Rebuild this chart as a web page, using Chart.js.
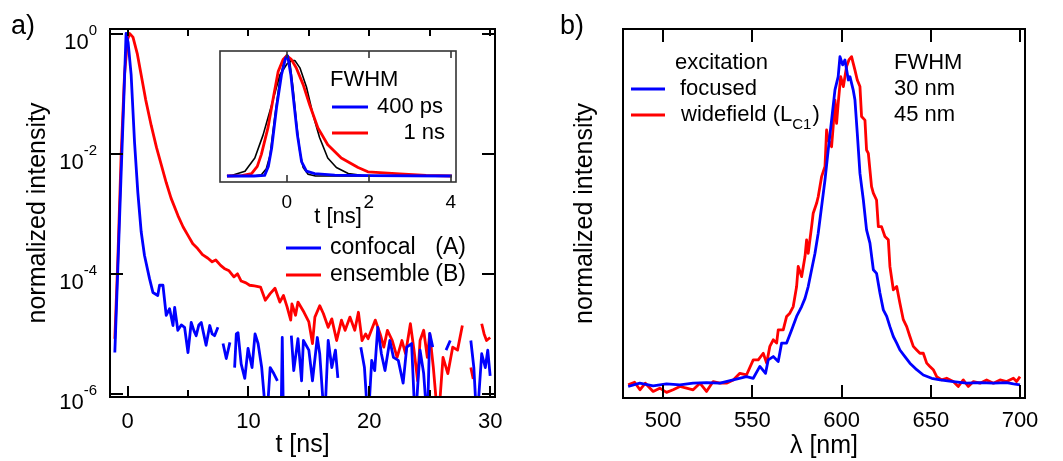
<!DOCTYPE html>
<html>
<head>
<meta charset="utf-8">
<script src="https://cdn.jsdelivr.net/npm/chart.js@4.4.1/dist/chart.umd.min.js"></script>
<style>
  body { margin: 0; background: #fff; }
  #wrap { position: relative; width: 1063px; height: 461px; overflow: hidden;
          font-family: "Liberation Sans", Arial, sans-serif; }
  #wrap canvas { position: absolute; }
  .panel { position: absolute; font-size: 27px; line-height: 30px; color: #000; }
</style>
</head>
<body>
<div id="wrap">
  <canvas id="decay" width="520" height="461" style="left:0;top:0"></canvas>
  <canvas id="inset" width="270" height="195" style="left:200px;top:40px"></canvas>
  <canvas id="spectrum" width="543" height="461" style="left:520px;top:0"></canvas>
  <div class="panel" style="left:11px;top:10px">a)</div>
  <div class="panel" style="left:560px;top:10px">b)</div>
</div>
<script>
// ---- panel a: decay curves (log10 of normalized intensity, null = no counts) ----
const confocalT = [-1.05, -0.8, -0.55, -0.3, -0.12, 0.05, 0.3, 0.58, 0.85, 1.13, 1.4, 1.82, 2.1, 2.5, 2.65, 2.93,
  3.2, 3.48, 3.76, 3.9, 4.16, 4.45, 4.72, 5.0, 5.27, 5.5, 5.68, 5.9, 6.1, 6.3, 6.5, 6.8, 7.0, 7.2, 7.48, 7.7,
  7.9, 8.17, 8.47, 8.65, 8.86, 9.0, 9.14, 9.4, 9.7, 9.97, 10.3, 10.55, 10.8, 11.1, 11.5, 11.8, 12.1, 12.4, 12.6,
  12.7, 12.8, 12.9, 13.2, 13.55, 13.75, 14.1, 14.4, 14.55, 15.0, 15.3, 15.7, 15.9, 16.3, 16.6, 16.9, 17.2, 17.4,
  17.8, 19.3, 19.6, 19.9, 20.2, 20.45, 20.7, 21.0, 21.3, 21.7, 22.0, 22.4, 22.8, 23.1, 23.5, 23.8, 24.2, 24.5,
  24.8, 25.0, 25.25, 25.8, 26.35, 26.7, 27.0, 28.4, 28.65, 28.9, 29.3, 29.6, 29.8, 30.0];
const confocalLog10 = [-5.31, -3.9, -2.45, -1.05, 0, -0.15, -0.69, -1.81, -2.64, -3.3, -3.69, -4.08, -4.31, -4.36, -4.19, -4.19,
  -4.69, -4.58, -4.86, -4.56, -4.94, -4.85, -4.89, -5.31, -4.81, -4.95, -5.03, -4.85, -4.81, -5.0, -5.19, -4.86, -5.0, -5.03, -4.89, null,
  -5.16, -5.41, -5.14, null, -5.56, -5.0, -4.98, -5.5, -5.74, -5.24, -5.56, -5.0, -5.16, -5.56, -6.5, -5.56, -5.66, -5.78, null,
  -6.5, -5.06, -6.5, null, -5.03, -5.61, -5.08, -5.78, -5.11, -5.27, -5.78, -5.06, -5.33, -6.5, -5.11, -5.56, -5.27, -5.73,
  null, -5.22, -5.56, -6.5, -5.44, -5.61, -4.89, -5.33, -5.61, -5.11, -5.39, -5.44, -5.82, -5.22, -5.16, -6.5, -5.27, -5.66,
  -6.5, -4.99, -5.22, null, -5.27, -5.11, null, -5.11, -5.56, -6.5, -5.33, -5.56, -5.27, -5.7];

const ensembleT = [-1.05, -0.8, -0.53, -0.25, 0.0, 0.17, 0.45, 0.8, 1.13, 1.5, 1.96, 2.4, 2.8, 3.2, 3.6, 4.17, 4.6,
  5.0, 5.4, 5.8, 6.2, 6.65, 7.0, 7.3, 7.7, 8.0, 8.4, 8.8, 9.1, 9.4, 9.8, 10.1, 10.5, 11.0, 11.4, 11.8, 12.2, 12.6,
  12.9, 13.2, 13.5, 13.6, 13.9, 14.1, 14.6, 15.0, 15.3, 15.5, 15.9, 16.2, 16.6, 16.9, 17.3, 17.7, 18.0, 18.4, 18.8,
  19.1, 19.4, 19.7, 19.9, 20.5, 20.9, 21.2, 21.5, 21.9, 22.3, 22.7, 23.0, 23.4, 23.7, 24.0, 24.2, 24.5, 24.8, 25.0,
  25.3, 25.7, 26.1, 26.5, 26.9, 27.3, 27.7, 27.95, 28.4, 28.6, 28.9, 29.3, 29.5, 29.7, 30.0];
const ensembleLog10 = [-5.08, -3.74, -2.03, -0.69, -0.1, 0, -0.06, -0.33, -0.69, -1.1, -1.53, -1.9, -2.19, -2.48, -2.74, -3.03, -3.22,
  -3.36, -3.5, -3.58, -3.68, -3.74, -3.8, -3.77, -3.86, -3.91, -3.95, -4.05, -4.0, -4.12, -4.15, -4.19, -4.2, -4.22, -4.44, -4.33, -4.24, -4.47,
  -4.36, -4.55, -4.77, -4.5, -4.69, -4.47, -4.64, -4.8, -5.16, -4.72, -4.53, -4.66, -4.89, -4.75, -5.11, -4.77, -4.94, -4.72, -4.94,
  -4.64, -5.11, -5.0, -5.08, -4.77, -5.0, -5.22, -4.94, -5.11, -5.39, -5.11, -5.33, -4.83, -5.27, -5.78, -5.11, -4.94, -5.39, -5.0,
  -5.56, -6.5, -5.39, -5.66, -5.22, -5.27, -4.86, null, -5.56, -5.75, null, -4.83, -5.0, -5.11, -5.06];

const timeTicks = [0, 10, 20, 30];
const timeMinorTicks = [5, 15, 25];
const decadeTicks = [1e-6, 1e-4, 1e-2, 1];

// ---- inset: normalized transients (linear) ----
const insetConfocalT = [-1.46, -0.8, -0.54, -0.45, -0.37, -0.25, -0.13, -0.03, 0.02, 0.1, 0.18, 0.26, 0.36, 0.48, 0.68, 1.17, 2.0, 4.03];
const insetConfocal  = [0, 0, 0.005, 0.08, 0.23, 0.57, 0.84, 0.98, 1.0, 0.84, 0.59, 0.34, 0.12, 0.04, 0.02, 0.008, 0.003, 0];
const insetEnsembleT = [-1.46, -1.1, -0.86, -0.72, -0.62, -0.46, -0.33, -0.21, -0.09, 0.0, 0.11, 0.23, 0.4, 0.56, 0.76, 1.0, 1.33, 1.74, 1.98, 2.76, 3.4, 4.03];
const insetEnsemble  = [0, 0.003, 0.02, 0.08, 0.18, 0.4, 0.65, 0.87, 0.97, 1.0, 0.97, 0.9, 0.76, 0.59, 0.4, 0.26, 0.15, 0.07, 0.035, 0.017, 0.005, 0];
const insetFitNarrowT = [-1.46, -0.8, -0.62, -0.5, -0.41, -0.29, -0.17, -0.05, 0.0, 0.07, 0.15, 0.24, 0.32, 0.4, 0.52, 0.7, 4.03];
const insetFitNarrow  = [0, 0, 0.01, 0.06, 0.17, 0.5, 0.8, 0.98, 1.01, 0.96, 0.74, 0.43, 0.2, 0.07, 0.015, 0, 0];
const insetFitWideT = [-1.46, -1.35, -1.02, -0.78, -0.58, -0.37, -0.17, 0.0, 0.11, 0.2, 0.32, 0.48, 0.64, 0.8, 1.0, 1.21, 1.5, 1.82, 2.3, 4.03];
const insetFitWide  = [0, 0.005, 0.04, 0.15, 0.34, 0.59, 0.84, 0.93, 0.96, 0.96, 0.9, 0.74, 0.51, 0.32, 0.15, 0.07, 0.02, 0.005, 0, 0];
const insetTicks = [0, 2, 4];

// ---- panel b: emission spectra ----
const focusedNm = [480.4, 486.9, 494.4, 501.9, 509.4, 516.8, 524.3, 531.8, 539.3, 546.7, 550.5, 554.2, 557.4, 558.9, 561.7,
  564.5, 566.4, 569.2, 572.0, 574.8, 577.6, 579.5, 581.3, 583.2, 585.1, 586.9, 588.8, 590.7, 592.5, 594.4, 596.3, 598.1,
  599.1, 600.6, 601.9, 603.8, 604.7, 606.5, 607.5, 608.8, 610.3, 612.2, 614.0, 615.9, 617.8, 619.6, 621.5, 623.4, 625.3,
  627.1, 629.0, 630.9, 632.7, 635.5, 638.3, 642.1, 645.8, 650.5, 655.2, 662.6, 670.1, 677.6, 685.1, 692.5, 696.3, 700.0];
const focusedInt = [-0.005, 0.005, -0.003, 0.003, 0, 0.005, 0.007, 0.005, 0.015, 0.025, 0.02, 0.056, 0.035, 0.076, 0.086,
  0.071, 0.127, 0.127, 0.167, 0.208, 0.238, 0.263, 0.299, 0.35, 0.4, 0.461, 0.542, 0.623, 0.714, 0.805, 0.897, 0.937,
  0.998, 0.973, 0.988, 0.927, 0.937, 0.897, 0.866, 0.765, 0.643, 0.562, 0.471, 0.431, 0.35, 0.339, 0.279, 0.228, 0.208,
  0.177, 0.147, 0.127, 0.106, 0.086, 0.066, 0.046, 0.03, 0.02, 0.015, 0.01, 0.005, 0.007, 0.005, 0.007, 0.003, 0];
const widefieldNm = [480.4, 484, 487, 490, 494.4, 498.1, 501.9, 505.6, 509.4, 513.1, 516.8, 520.6, 524.3, 528.0, 531.8, 535.5,
  539.3, 543.0, 546.7, 550.5, 553.3, 556.1, 558.0, 559.8, 561.7, 563.6, 564.5, 567.3, 569.2, 571.0, 572.9, 574.8, 575.7,
  577.6, 579.5, 580.4, 581.3, 583.2, 584.1, 586.0, 586.9, 588.8, 590.7, 591.6, 592.5, 594.4, 595.3, 596.3, 597.2, 598.1,
  599.5, 601.0, 602.8, 604.1, 605.6, 606.5, 607.5, 608.8, 610.3, 611.2, 613.1, 614.0, 615.0, 616.8, 617.8, 619.6, 620.6,
  622.4, 624.3, 626.2, 627.1, 629.0, 630.9, 632.7, 634.6, 636.5, 638.3, 640.2, 642.1, 643.9, 645.8, 647.7, 649.5, 651.4,
  653.3, 656.1, 658.9, 662.6, 665.4, 668.2, 671.0, 673.9, 677.6, 681.3, 685.1, 688.8, 692.5, 696.3, 698.1, 700.0];
const widefieldInt = [0, 0.008, -0.015, 0.005, -0.02, -0.01, -0.023, -0.015, -0.005, -0.01, -0.015, 0.005, -0.02, 0.01, 0.005, 0.005,
  0.015, 0.035, 0.03, 0.076, 0.076, 0.096, 0.066, 0.117, 0.137, 0.127, 0.167, 0.167, 0.208, 0.218, 0.238, 0.299, 0.36,
  0.329, 0.39, 0.441, 0.4, 0.481, 0.522, 0.552, 0.572, 0.633, 0.664, 0.775, 0.745, 0.724, 0.785, 0.866, 0.795, 0.856,
  0.937, 0.907, 0.968, 0.988, 0.998, 0.978, 0.957, 0.927, 0.907, 0.816, 0.805, 0.714, 0.704, 0.603, 0.583, 0.562, 0.481,
  0.481, 0.451, 0.441, 0.36, 0.289, 0.299, 0.248, 0.198, 0.177, 0.147, 0.117, 0.106, 0.096, 0.096, 0.066, 0.056, 0.046,
  0.025, 0.015, 0.02, 0.01, -0.005, 0.015, -0.005, 0.01, 0.005, 0.015, 0.005, 0.015, 0.01, 0.02, 0.01, 0.025];
const wavelengthTicks = [500, 550, 600, 650, 700];

const FONT = '"Liberation Sans", Arial, sans-serif';
const BLUE = '#0000ff';
const RED = '#ff0000';
const CURVE_W = 2.8;
Chart.defaults.font.family = FONT;
Chart.defaults.color = '#000';

const toPoints = (xs, ys, f = v => v) => xs.map((x, i) => ({ x: x, y: ys[i] === null ? null : f(ys[i]) }));
const line = (label, data, color, width) => ({
  label: label, data: data, borderColor: color, borderWidth: width,
  pointRadius: 0, tension: 0, spanGaps: false, borderJoinStyle: 'round', fill: false
});
const fixedTicks = values => scale => { scale.ticks = values.map(v => ({ value: v })); };

// black frame + inward ticks on chosen sides
function drawFrame(chart, marks, lw, color) {
  const { ctx, chartArea: a, scales } = chart;
  ctx.save();
  ctx.strokeStyle = color;
  ctx.lineWidth = lw;
  ctx.strokeRect(a.left, a.top, a.right - a.left, a.bottom - a.top);
  ctx.beginPath();
  marks.forEach(m => {
    m.values.forEach(v => {
      if (m.side === 'top' || m.side === 'bottom') {
        const px = Math.round(scales.x.getPixelForValue(v));
        const y0 = m.side === 'bottom' ? a.bottom : a.top;
        ctx.moveTo(px, y0);
        ctx.lineTo(px, y0 + (m.side === 'bottom' ? -m.len : m.len));
      } else {
        const py = Math.round(scales.y.getPixelForValue(v));
        const x0 = m.side === 'left' ? a.left : a.right;
        ctx.moveTo(x0, py);
        ctx.lineTo(x0 + (m.side === 'left' ? m.len : -m.len), py);
      }
    });
  });
  ctx.stroke();
  ctx.restore();
}

function legendLine(ctx, x0, x1, y, color) {
  ctx.save();
  ctx.strokeStyle = color;
  ctx.lineWidth = CURVE_W;
  ctx.beginPath();
  ctx.moveTo(x0, y);
  ctx.lineTo(x1, y);
  ctx.stroke();
  ctx.restore();
}

function text(ctx, str, x, y, size, align) {
  ctx.font = size + 'px ' + FONT;
  ctx.fillStyle = '#000';
  ctx.textAlign = align || 'left';
  ctx.textBaseline = 'middle';
  ctx.fillText(str, x, y);
}

// ---- panel a ----
new Chart(document.getElementById('decay'), {
  type: 'line',
  data: {
    datasets: [
      line('confocal (A)', toPoints(confocalT, confocalLog10, v => Math.pow(10, v)), BLUE, CURVE_W),
      line('ensemble (B)', toPoints(ensembleT, ensembleLog10, v => Math.pow(10, v)), RED, CURVE_W)
    ]
  },
  options: {
    responsive: false,
    animation: false,
    layout: { padding: { left: 0, top: 29, right: 25, bottom: 0 } },
    plugins: { legend: { display: false }, tooltip: { enabled: false } },
    scales: {
      x: {
        type: 'linear', min: -1.45, max: 30.4,
        afterBuildTicks: fixedTicks(timeTicks),
        afterFit: s => { s.height = 64; },
        grid: { display: false, drawTicks: false },
        border: { display: false },
        ticks: { padding: 12, font: { size: 22 } },
        title: { display: true, text: 't [ns]', font: { size: 25 }, padding: { top: 0, bottom: 1 } }
      },
      y: {
        type: 'logarithmic', min: Math.pow(10, -6.05), max: Math.pow(10, 0.075),
        afterBuildTicks: fixedTicks(decadeTicks),
        afterFit: s => { s.width = 110; },
        grid: { display: false, drawTicks: false },
        border: { display: false },
        ticks: { display: false },
        title: { display: true, text: 'normalized intensity', font: { size: 25 }, padding: { top: 23, bottom: 0 } }
      }
    }
  },
  plugins: [{
    id: 'decayDecor',
    afterDraw(chart) {
      const ctx = chart.ctx;
      drawFrame(chart, [
        { side: 'bottom', values: timeTicks, len: 11 },
        { side: 'bottom', values: timeMinorTicks, len: 7 },
        { side: 'top', values: timeTicks.concat(timeMinorTicks), len: 7 },
        { side: 'left', values: decadeTicks, len: 13 },
        { side: 'right', values: decadeTicks, len: 13 }
      ], 2, '#000');
      // 10^n labels with real superscripts
      decadeTicks.forEach(v => {
        const py = chart.scales.y.getPixelForValue(v);
        const exp = String(Math.round(Math.log10(v)));
        ctx.save();
        ctx.fillStyle = '#000';
        ctx.textAlign = 'right';
        ctx.textBaseline = 'alphabetic';
        ctx.font = '15px ' + FONT;
        ctx.fillText(exp, 97, py + 1);
        const w = ctx.measureText(exp).width;
        ctx.font = '22px ' + FONT;
        ctx.fillText('10', 97 - w, py + 15.5);
        ctx.restore();
      });
      legendLine(ctx, 286, 321, 248, BLUE);
      legendLine(ctx, 286, 321, 275, RED);
      text(ctx, 'confocal', 330, 248, 23);
      text(ctx, '(A)', 466, 248, 23, 'right');
      text(ctx, 'ensemble', 330, 275, 23);
      text(ctx, '(B)', 466, 275, 23, 'right');
    }
  }]
});

// ---- inset ----
new Chart(document.getElementById('inset'), {
  type: 'line',
  data: {
    datasets: [
      line('confocal', toPoints(insetConfocalT, insetConfocal), BLUE, CURVE_W),
      line('ensemble', toPoints(insetEnsembleT, insetEnsemble), RED, CURVE_W),
      line('fit 400 ps', toPoints(insetFitNarrowT, insetFitNarrow), '#000', 1.6),
      line('fit 1 ns', toPoints(insetFitWideT, insetFitWide), '#000', 1.6)
    ]
  },
  options: {
    responsive: false,
    animation: false,
    layout: { padding: { left: 20, top: 11, right: 14, bottom: 0 } },
    plugins: { legend: { display: false }, tooltip: { enabled: false } },
    scales: {
      x: {
        type: 'linear', min: -1.63, max: 4.13,
        afterBuildTicks: fixedTicks(insetTicks),
        afterFit: s => { s.height = 53; },
        grid: { display: false, drawTicks: false },
        border: { display: false },
        ticks: { padding: 9, font: { size: 19 } },
        title: { display: true, text: 't [ns]', font: { size: 22 }, padding: { top: 0, bottom: 5 } }
      },
      y: { type: 'linear', min: -0.05, max: 1.04, display: false }
    }
  },
  plugins: [{
    id: 'insetDecor',
    beforeDatasetsDraw(chart) {
      const { ctx, chartArea: a } = chart;
      ctx.save();
      ctx.fillStyle = '#fff';
      ctx.fillRect(a.left, a.top, a.right - a.left, a.bottom - a.top);
      ctx.restore();
    },
    afterDraw(chart) {
      const ctx = chart.ctx;
      drawFrame(chart, [
        { side: 'bottom', values: insetTicks, len: 7 },
        { side: 'top', values: insetTicks, len: 7 }
      ], 1.6, '#333');
      text(ctx, 'FWHM', 130, 40, 22);
      legendLine(ctx, 132, 168, 67, BLUE);
      text(ctx, '400 ps', 177, 67, 22);
      legendLine(ctx, 132, 168, 93, RED);
      text(ctx, '1 ns', 245, 93, 22, 'right');
    }
  }]
});

// ---- panel b ----
new Chart(document.getElementById('spectrum'), {
  type: 'line',
  data: {
    datasets: [
      line('focused', toPoints(focusedNm, focusedInt), BLUE, CURVE_W),
      line('widefield (LC1)', toPoints(widefieldNm, widefieldInt), RED, CURVE_W)
    ]
  },
  options: {
    responsive: false,
    animation: false,
    layout: { padding: { left: 0, top: 29, right: 38, bottom: 0 } },
    plugins: { legend: { display: false }, tooltip: { enabled: false } },
    scales: {
      x: {
        type: 'linear', min: 477.5, max: 702.8,
        afterBuildTicks: fixedTicks(wavelengthTicks),
        afterFit: s => { s.height = 63; },
        grid: { display: false, drawTicks: false },
        border: { display: false },
        ticks: { padding: 10, font: { size: 22 } },
        title: { display: true, text: 'λ [nm]', font: { size: 25 }, padding: { top: 0, bottom: 0 } }
      },
      y: {
        type: 'linear', min: -0.04, max: 1.082,
        afterFit: s => { s.width = 103; },
        grid: { display: false, drawTicks: false },
        border: { display: false },
        ticks: { display: false },
        title: { display: true, text: 'normalized intensity', font: { size: 25 }, padding: { top: 50, bottom: 0 } }
      }
    }
  },
  plugins: [{
    id: 'spectrumDecor',
    afterDraw(chart) {
      const ctx = chart.ctx;
      drawFrame(chart, [
        { side: 'bottom', values: wavelengthTicks, len: 13 },
        { side: 'top', values: wavelengthTicks, len: 13 }
      ], 2, '#000');
      text(ctx, 'excitation', 155, 63, 22);
      legendLine(ctx, 111, 145, 89, BLUE);
      text(ctx, 'focused', 160, 89, 22);
      legendLine(ctx, 111, 145, 115, RED);
      text(ctx, 'widefield (L', 161, 115, 22);
      ctx.font = '22px ' + FONT;
      let x = 161 + ctx.measureText('widefield (L').width;
      ctx.font = '15px ' + FONT;
      ctx.textBaseline = 'alphabetic';
      ctx.fillText('C1', x, 129);
      x += ctx.measureText('C1').width + 1;
      text(ctx, ')', x, 115, 22);
      text(ctx, 'FWHM', 374, 63, 22);
      text(ctx, '30 nm', 374, 89, 22);
      text(ctx, '45 nm', 374, 115, 22);
    }
  }]
});
</script>
</body>
</html>
